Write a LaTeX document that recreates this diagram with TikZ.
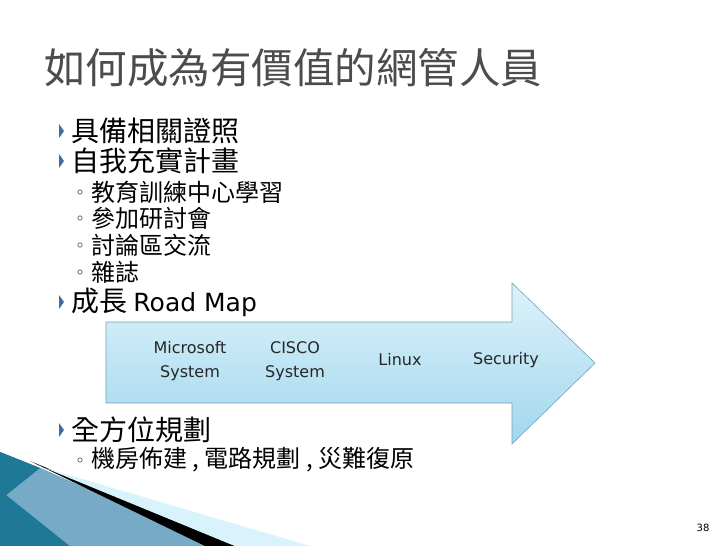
\documentclass[tikz,border=0pt]{standalone}
\usepackage{fontspec}
\setmainfont{DejaVu Sans}
\newfontfamily\cjk{Noto Sans CJK TC}
\definecolor{teal1}{RGB}{30,120,150}
\definecolor{arrowtop}{RGB}{222,242,250}
\definecolor{arrowbot}{RGB}{160,215,238}
\begin{document}
\begin{tikzpicture}[x=1pt,y=-1pt,
  main/.style={anchor=west,font=\fontsize{28}{28}\selectfont\cjk,inner sep=0},
  sub/.style={anchor=west,font=\fontsize{24}{24}\selectfont\cjk,inner sep=0},
  lab/.style={align=center,font=\fontsize{16}{24}\selectfont,text=black!85},
  tri/.style={fill=cyan!60!blue!70!black}]
\useasboundingbox (0,0) rectangle (728,546);
\fill[white] (0,0) rectangle (728,546);
% decoration
\fill[teal1] (0,452) -- (40,468) -- (215,546) -- (0,546) -- cycle;
\fill[cyan!30!teal1!70!white] (0,490) -- (40,468) -- (215,546) -- (70,546) -- cycle;
\fill[teal1] (0,452) -- (40,468) -- (0,500) -- cycle;
\fill[black] (30,461) -- (235,546) -- (205,546) -- cycle;
\fill[cyan!15!white] (45,468) -- (310,546) -- (235,546) -- cycle;
% title
\node[anchor=west,font=\fontsize{41.5}{41.5}\selectfont\cjk,text=black!70,inner sep=0] (title) at (44,68) {如何成為有價值的網管人員};
% bullets
\foreach \y in {131,161,302,430}{\fill[tri] (59,\y-7) -- (64,\y) -- (59,\y+7) -- cycle;}
\foreach \y in {192,218,245,272,460}{\draw[cyan!50!blue!70!black,line width=0.7] (80,\y) circle (2.2);}
\node[main] (b1) at (71,131) {具備相關證照};
\node[main] (b2) at (71,161) {自我充實計畫};
\node[sub] (s1) at (91,192) {教育訓練中心學習};
\node[sub] (s2) at (91,218) {參加研討會};
\node[sub] (s3) at (91,245) {討論區交流};
\node[sub] (s4) at (91,272) {雜誌};
\node[main] (b3) at (71,302) {成長 \fontspec{DejaVu Sans}\fontsize{25}{25}\selectfont Road Map};
\node[main] (b4) at (71,430) {全方位規劃};
\node[sub] (s5) at (91,460) {機房佈建 , 電路規劃 , 災難復原};
% arrow
\shade[top color=arrowtop,bottom color=arrowbot,draw=cyan!40!gray,line width=0.6]
 (106,322) -- (512,322) -- (512,283) -- (595,363) -- (512,444) -- (512,403) -- (106,403) -- cycle;
\node[lab] (m) at (190,361) {Microsoft\\System};
\node[lab] (c) at (295,361) {CISCO\\System};
\node[lab] (l) at (400,360) {Linux};
\node[lab] (s) at (506,360) {Security};
\node[font=\fontsize{10}{10}\selectfont] (p) at (703,528) {38};
\end{tikzpicture}
\end{document}
